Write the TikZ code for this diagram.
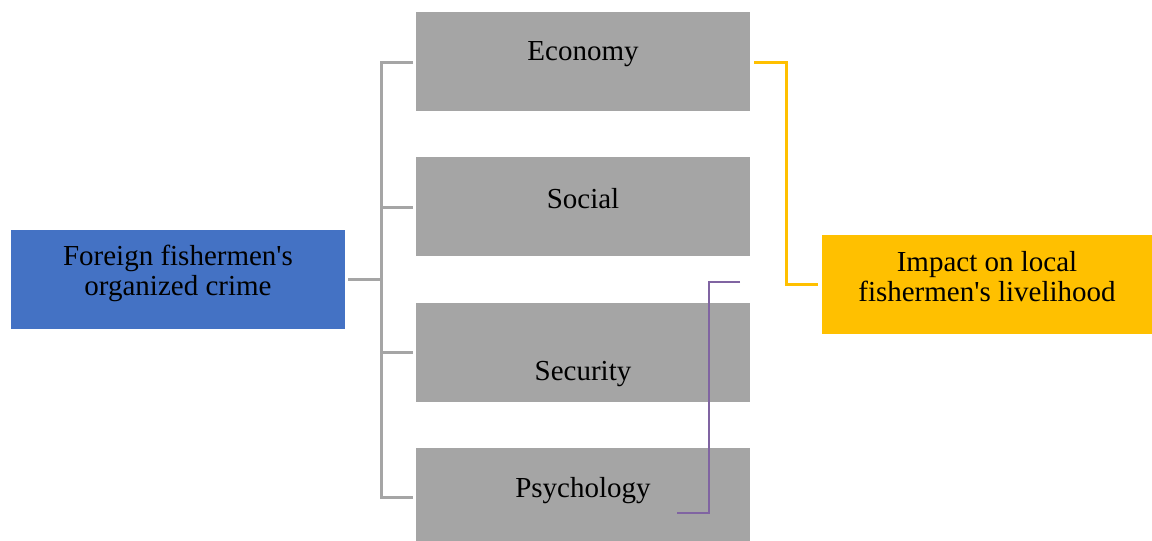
\documentclass[tikz,border=0pt]{standalone}
\usepackage{fontspec}
\setmainfont{Liberation Serif}
\definecolor{cblue}{HTML}{4472C4}
\definecolor{cgray}{HTML}{A5A5A5}
\definecolor{cyellow}{HTML}{FFC000}
\definecolor{cpurple}{HTML}{8064A2}
\begin{document}
\begin{tikzpicture}[x=1pt,y=-1pt,
  lbl/.style={font=\fontsize{29}{30}\selectfont,align=center,text=black,inner sep=0pt},
  gline/.style={draw=cgray,line width=3pt},
  yline/.style={draw=cyellow,line width=3pt},
  pline/.style={draw=cpurple,line width=2pt}]
\useasboundingbox (0,0) rectangle (1152,541);
\fill[cblue] (11,230) rectangle (345,329);
\fill[cgray] (416,12) rectangle (750,111);
\fill[cgray] (416,157) rectangle (750,256);
\fill[cgray] (416,303) rectangle (750,402);
\fill[cgray] (416,448) rectangle (750,541);
\fill[cyellow] (822,235) rectangle (1152,334);
\node[lbl] (foreign) at (178,273) {Foreign fishermen\textquotesingle s\\organized crime};
\node[lbl] (economy) at (583,54) {Economy};
\node[lbl] (social) at (583,199) {Social};
\node[lbl] (security) at (583,374) {Security};
\node[lbl] (psych) at (583,491) {Psychology};
\node[lbl] (impact) at (987,277) {Impact on local\\fishermen\textquotesingle s livelihood};
\coordinate (bout) at (348,279);
\coordinate (trunkmid) at (381,279);
\coordinate (t1) at (381,62);
\coordinate (t2) at (381,207);
\coordinate (t3) at (381,352);
\coordinate (t4) at (381,497);
\coordinate (e1) at (413,62);
\coordinate (e2) at (413,207);
\coordinate (e3) at (413,352);
\coordinate (e4) at (413,497);
\draw[gline] (bout) -- (trunkmid);
\draw[gline] (e1) -- (t1) -- (t4) -- (e4);
\draw[gline] (t2) -- (e2);
\draw[gline] (t3) -- (e3);
\coordinate (y1) at (754,62);
\coordinate (y2) at (818,284);
\draw[yline] (y1) -- (786,62) -- (786,284) -- (y2);
\coordinate (p1) at (740,282);
\coordinate (p2) at (677,513);
\draw[pline] (p1) -- (709,282) -- (709,513) -- (p2);
\end{tikzpicture}
\end{document}
